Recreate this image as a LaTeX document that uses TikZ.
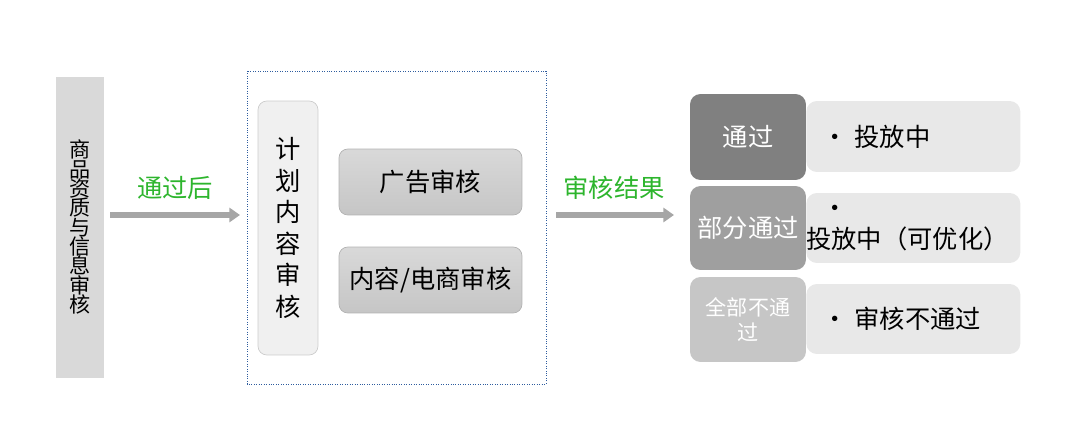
\documentclass[tikz,border=0pt]{standalone}
\usepackage{fontspec}
\setmainfont{Noto Sans CJK SC}
\usepackage{xcolor}
\usetikzlibrary{positioning,calc,arrows.meta}
\definecolor{barGray}{HTML}{D9D9D9}
\definecolor{okGreen}{HTML}{2DB52D}
\definecolor{boxBlue}{HTML}{2E5C9E}
\begin{document}
\begin{tikzpicture}[x=0.02cm,y=-0.02cm,
    vbar/.style={fill=barGray, draw=none},
    plan/.style={rectangle, draw=gray!40, fill=gray!12, rounded corners=5pt},
    check/.style={rectangle, draw=gray!60, top color=gray!30, bottom color=gray!45, rounded corners=5pt, font=\Large},
    result/.style={rectangle, draw=none, rounded corners=6pt, text=white, font=\Large, align=center},
    detail/.style={rectangle, fill=gray!18, rounded corners=6pt, font=\Large, anchor=west, inner sep=0pt, text width=4.28cm, align=left},
    flow/.style={-{Triangle[length=6pt,width=8pt]}, line width=3pt, gray!70},
    tag/.style={text=okGreen, font=\Large}
]
    \useasboundingbox (0,0) rectangle (1080,435);
    % Left source bar
    \fill[vbar] (56,77) rectangle (104,378);
    \node[align=center, font=\large, inner sep=0pt] (src) at (80,227) {商\\[-3pt]品\\[-3pt]资\\[-3pt]质\\[-3pt]与\\[-3pt]信\\[-3pt]息\\[-3pt]审\\[-3pt]核};

    % Review block
    \draw[boxBlue, densely dotted] (247,71) rectangle (546,384);
    \node[plan, minimum width=1.2cm, minimum height=5.08cm] (plan) at (288,228) {};
    \node[align=center, font=\Large, inner sep=0pt] at (plan) {计\\划\\内\\容\\审\\核};
    \node[check, minimum width=3.66cm, minimum height=1.32cm] (ad) at (430.5,182) {广告审核};
    \node[check, minimum width=3.66cm, minimum height=1.32cm] (content) at (430.5,280) {内容/电商审核};

    % Arrows
    \coordinate (a1) at (240,215);
    \draw[flow] (110,215) -- (a1);
    \node[tag] (t1) at (175,188) {通过后};
    \coordinate (a2) at (674,215);
    \draw[flow] (556,215) -- (a2);
    \node[tag] (t2) at (614,188) {审核结果};

    % Results
    \node[detail, minimum height=1.42cm] (d1) at (806,136.5) {\hspace{0.32cm}•\hspace{4pt}投放中};
    \node[detail, minimum height=1.4cm] (d2) at (806,228) {\hspace{0.32cm}•\hspace{4pt}投放中（可优化）};
    \node[detail, minimum height=1.4cm] (d3) at (806,319) {\hspace{0.32cm}•\hspace{4pt}审核不通过};
    \node[result, fill=gray, minimum width=2.32cm, minimum height=1.72cm] (r1) at (748,137) {通过};
    \node[result, fill=gray!75, minimum width=2.32cm, minimum height=1.68cm] (r2) at (748,228) {部分通过};
    \node[result, fill=gray!45, minimum width=2.32cm, minimum height=1.7cm, font=\large] (r3) at (748,319.5) {全部不通\\过};
\end{tikzpicture}
\end{document}
